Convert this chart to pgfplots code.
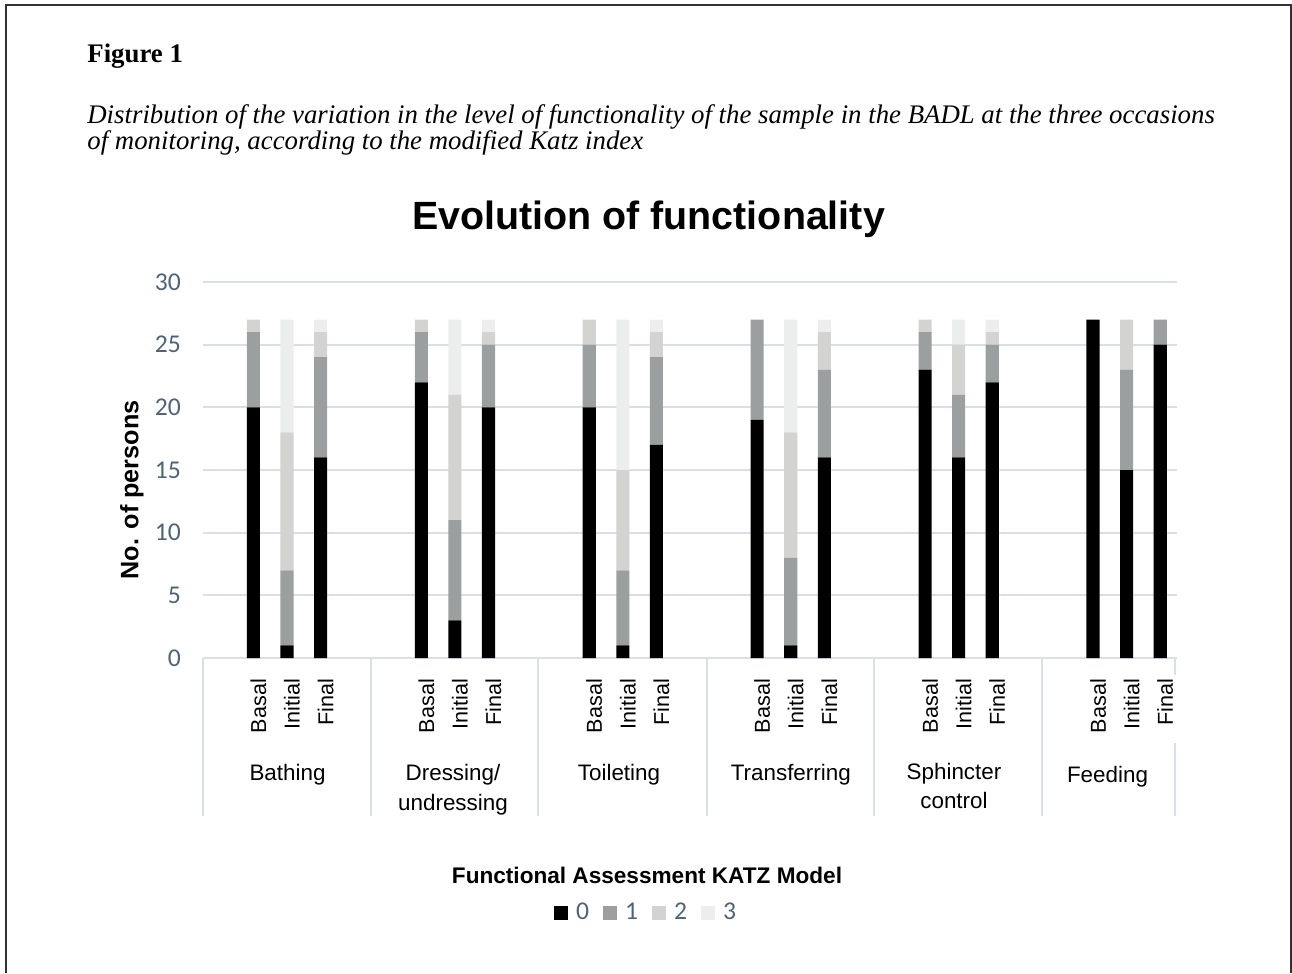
\documentclass[border=0pt]{standalone}
\usepackage{fontspec}
\setmainfont{Liberation Serif}
\newfontfamily\arial{Liberation Sans}
\newfontfamily\calibri{Carlito}
\usepackage{pgfplots}
\pgfplotsset{compat=1.18}
\usepackage{pgfplotstable}
\definecolor{gridc}{RGB}{217,223,230}
\definecolor{tickc}{RGB}{78,99,120}
\definecolor{lone}{RGB}{156,159,160}
\definecolor{ltwo}{RGB}{211,211,210}
\definecolor{lthree}{RGB}{236,237,237}
\definecolor{framec}{RGB}{50,50,50}

\pgfplotstableread{
x    l0 l1 l2 l3
1.5  20 6  1  0
2.5  1  6  11 9
3.5  16 8  2  1
6.5  22 4  1  0
7.5  3  8  10 6
8.5  20 5  1  1
11.5 20 5  2  0
12.5 1  6  8  12
13.5 17 7  2  1
16.5 19 8  0  0
17.5 1  7  10 9
18.5 16 7  3  1
21.5 23 3  1  0
22.5 16 5  4  2
23.5 22 3  1  1
26.5 27 0  0  0
27.5 15 8  4  0
28.5 25 2  0  0
}\katzdata

\newcommand\xl[1]{{\arial\fontsize{10.8}{12}\selectfont #1}}
\pgfplotsset{mylegend/.style={legend image code/.code={\fill[##1] (0pt,-3.5pt) rectangle (7pt,3.5pt); \path (9pt,0pt);}}}

\begin{document}
\begin{tikzpicture}
\path (0pt,0pt) rectangle (646pt,-486.5pt);
\begin{axis}[
  at={(101.5pt,-329pt)}, anchor=south west,
  scale only axis, width=487pt, height=188pt,
  xmin=0, xmax=29, ymin=0, ymax=30,
  ybar stacked, bar width=0.39,
  axis line style={draw=none},
  major tick length=0pt,
  ytick={0,5,...,30},
  ymajorgrids, grid style={gridc, line width=1pt},
  xtick={1.5,2.5,3.5,6.5,7.5,8.5,11.5,12.5,13.5,16.5,17.5,18.5,21.5,22.5,23.5,26.5,27.5,28.5},
  xticklabels={\xl{Basal},\xl{Initial},\xl{Final},\xl{Basal},\xl{Initial},\xl{Final},\xl{Basal},\xl{Initial},\xl{Final},\xl{Basal},\xl{Initial},\xl{Final},\xl{Basal},\xl{Initial},\xl{Final},\xl{Basal},\xl{Initial},\xl{Final}},
  xticklabel style={xshift=2.5pt, rotate=90, anchor=east, font=\arial\fontsize{10.8}{12}\selectfont, text=black},
  xticklabel shift=7pt,
  yticklabel style={font=\calibri\fontsize{12.8}{14}\selectfont, text=tickc},
  yticklabel shift=7.5pt,
  /pgf/number format/assume math mode=true,
  ylabel={No. of persons},
  ylabel style={at={(axis description cs:-0.073,0.447)}, anchor=center, font=\arial\bfseries\fontsize{12.6}{14}\selectfont},
  legend columns=4,
  legend style={at={(0.456,-0.678)}, anchor=center, draw=none, fill=none,
    font=\calibri\fontsize{12.8}{14}\selectfont, text=tickc,
    /tikz/every even column/.append style={column sep=5pt}},
  clip=false,
]
\addplot[fill=black, draw=none, mylegend] table[x=x,y=l0]{\katzdata};
\addplot[fill=lone, draw=none, mylegend] table[x=x,y=l1]{\katzdata};
\addplot[fill=ltwo, draw=none, mylegend] table[x=x,y=l2]{\katzdata};
\addplot[fill=lthree, draw=none, mylegend] table[x=x,y=l3]{\katzdata};
\legend{0,1,2,3}
\end{axis}
\begin{scope}[x=0.5pt,y=-0.5pt, every node/.style={inner sep=0pt}]
  \draw[framec, line width=1pt] (6,973) -- (6,5) -- (1290.5,5) -- (1290.5,973);
  \foreach \xx in {203,370.7,537.7,706.7,874,1041.7}{
    \draw[gridc, line width=1pt] (\xx,658) -- (\xx,816);
  }
  \draw[gridc, line width=1pt] (1175,658) -- (1175,675);
  \draw[gridc, line width=1pt] (1175,743) -- (1175,816);
  \node[anchor=base west, font=\bfseries\fontsize{13.4}{16}\selectfont] at (87,63) {Figure 1};
  \node[anchor=north west, align=left, font=\itshape\fontsize{13.4}{11.5}\selectfont] at (87,104)
    {Distribution of the variation in the level of functionality of the sample in the BADL at the three occasions\\
     of monitoring, according to the modified Katz index};
  \node[anchor=base, font=\arial\bfseries\fontsize{19.7}{22}\selectfont] at (648.5,229) {Evolution of functionality};
  \node[anchor=base, font=\arial\bfseries\fontsize{11.3}{13}\selectfont] at (647,883) {Functional Assessment KATZ Model};
  \begin{scope}[every node/.append style={anchor=base, font=\arial\fontsize{11.2}{13}\selectfont}]
    \node at (287.5,780) {Bathing};
    \node at (453,780) {Dressing/};
    \node at (453,810) {undressing};
    \node at (619,780) {Toileting};
    \node at (790.8,780) {Transferring};
    \node at (954,779) {Sphincter};
    \node at (954,808) {control};
    \node at (1107.5,782) {Feeding};
  \end{scope}
\end{scope}
\end{tikzpicture}
\end{document}
